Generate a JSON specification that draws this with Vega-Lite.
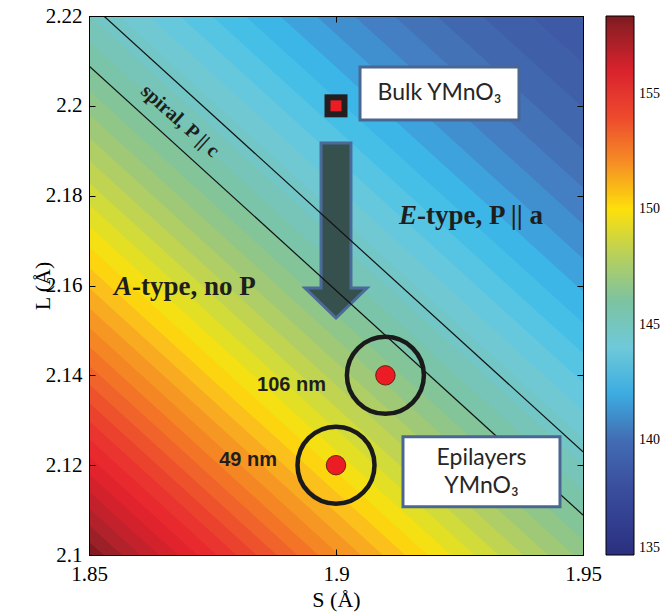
{
  "$schema": "https://vega.github.io/schema/vega-lite/v6.json",
  "width": 494,
  "height": 539,
  "autosize": "none",
  "padding": {"left": 89, "top": 16, "right": 77, "bottom": 59},
  "background": "white",
  "config": {"view": {"stroke": "black", "strokeWidth": 1}, "font": "Liberation Serif"},
  "datasets": {
    "bands": [
      {"S":1.85,"lo":1.9,"v":158.25},{"S":1.95,"lo":1.8,"v":158.25},
      {"S":1.85,"lo":2.10293,"v":157.75},{"S":1.95,"lo":2.00293,"v":157.75},
      {"S":1.85,"lo":2.10664,"v":157.25},{"S":1.95,"lo":2.00664,"v":157.25},
      {"S":1.85,"lo":2.11039,"v":156.75},{"S":1.95,"lo":2.01039,"v":156.75},
      {"S":1.85,"lo":2.11418,"v":156.25},{"S":1.95,"lo":2.01418,"v":156.25},
      {"S":1.85,"lo":2.11802,"v":155.75},{"S":1.95,"lo":2.01802,"v":155.75},
      {"S":1.85,"lo":2.12191,"v":155.25},{"S":1.95,"lo":2.02191,"v":155.25},
      {"S":1.85,"lo":2.12585,"v":154.75},{"S":1.95,"lo":2.02585,"v":154.75},
      {"S":1.85,"lo":2.12984,"v":154.25},{"S":1.95,"lo":2.02984,"v":154.25},
      {"S":1.85,"lo":2.13389,"v":153.75},{"S":1.95,"lo":2.03389,"v":153.75},
      {"S":1.85,"lo":2.138,"v":153.25},{"S":1.95,"lo":2.038,"v":153.25},
      {"S":1.85,"lo":2.14217,"v":152.75},{"S":1.95,"lo":2.04217,"v":152.75},
      {"S":1.85,"lo":2.1464,"v":152.25},{"S":1.95,"lo":2.0464,"v":152.25},
      {"S":1.85,"lo":2.15069,"v":151.75},{"S":1.95,"lo":2.05069,"v":151.75},
      {"S":1.85,"lo":2.15506,"v":151.25},{"S":1.95,"lo":2.05506,"v":151.25},
      {"S":1.85,"lo":2.15949,"v":150.75},{"S":1.95,"lo":2.05949,"v":150.75},
      {"S":1.85,"lo":2.164,"v":150.25},{"S":1.95,"lo":2.064,"v":150.25},
      {"S":1.85,"lo":2.16859,"v":149.75},{"S":1.95,"lo":2.06859,"v":149.75},
      {"S":1.85,"lo":2.17327,"v":149.25},{"S":1.95,"lo":2.07327,"v":149.25},
      {"S":1.85,"lo":2.17804,"v":148.75},{"S":1.95,"lo":2.07804,"v":148.75},
      {"S":1.85,"lo":2.1829,"v":148.25},{"S":1.95,"lo":2.0829,"v":148.25},
      {"S":1.85,"lo":2.18786,"v":147.75},{"S":1.95,"lo":2.08786,"v":147.75},
      {"S":1.85,"lo":2.19293,"v":147.25},{"S":1.95,"lo":2.09293,"v":147.25},
      {"S":1.85,"lo":2.19811,"v":146.75},{"S":1.95,"lo":2.09811,"v":146.75},
      {"S":1.85,"lo":2.20341,"v":146.25},{"S":1.95,"lo":2.10341,"v":146.25},
      {"S":1.85,"lo":2.20884,"v":145.75},{"S":1.95,"lo":2.10884,"v":145.75},
      {"S":1.85,"lo":2.21442,"v":145.25},{"S":1.95,"lo":2.11442,"v":145.25},
      {"S":1.85,"lo":2.22015,"v":144.75},{"S":1.95,"lo":2.12015,"v":144.75},
      {"S":1.85,"lo":2.22605,"v":144.25},{"S":1.95,"lo":2.12605,"v":144.25},
      {"S":1.85,"lo":2.23212,"v":143.75},{"S":1.95,"lo":2.13212,"v":143.75},
      {"S":1.85,"lo":2.2384,"v":143.25},{"S":1.95,"lo":2.1384,"v":143.25},
      {"S":1.85,"lo":2.2449,"v":142.75},{"S":1.95,"lo":2.1449,"v":142.75},
      {"S":1.85,"lo":2.25164,"v":142.25},{"S":1.95,"lo":2.15164,"v":142.25},
      {"S":1.85,"lo":2.25866,"v":141.75},{"S":1.95,"lo":2.15866,"v":141.75},
      {"S":1.85,"lo":2.266,"v":141.25},{"S":1.95,"lo":2.166,"v":141.25},
      {"S":1.85,"lo":2.27369,"v":140.75},{"S":1.95,"lo":2.17369,"v":140.75},
      {"S":1.85,"lo":2.2818,"v":140.25},{"S":1.95,"lo":2.1818,"v":140.25},
      {"S":1.85,"lo":2.29041,"v":139.75},{"S":1.95,"lo":2.19041,"v":139.75},
      {"S":1.85,"lo":2.29962,"v":139.25},{"S":1.95,"lo":2.19962,"v":139.25},
      {"S":1.85,"lo":2.30957,"v":138.75},{"S":1.95,"lo":2.20957,"v":138.75},
      {"S":1.85,"lo":2.32048,"v":138.25},{"S":1.95,"lo":2.22048,"v":138.25}
    ],
    "lines": [
      {"S":1.85,"L":2.223,"id":"upper"},{"S":1.95,"L":2.123,"id":"upper"},
      {"S":1.85,"L":2.2089,"id":"lower"},{"S":1.95,"L":2.1089,"id":"lower"}
    ],
    "arrow": [{"S":1.9,"L":2.17225}],
    "bulk": [{"S":1.9,"L":2.2}],
    "films": [{"S":1.91,"L":2.14,"t":"106 nm"},{"S":1.9,"L":2.12,"t":"49 nm"}],
    "filmLabels": [{"S":1.89798,"L":2.13785,"t":"106 nm"},{"S":1.88806,"L":2.12116,"t":"49 nm"}],
    "boxes": [
      {"x1":1.90486,"x2":1.93704,"y1":2.19685,"y2":2.20865},
      {"x1":1.91356,"x2":1.94534,"y1":2.11076,"y2":2.12634}
    ],
    "boxText": [
      {"S":1.92095,"L":2.20275,"t":"Bulk YMnO₃"},
      {"S":1.92945,"L":2.1216,"t":"Epilayers"},
      {"S":1.92945,"L":2.11537,"t":"YMnO₃"}
    ],
    "phaseItalic": [{"S":1.8587,"L":2.1597,"t":"A"},{"S":1.9164,"L":2.17548,"t":"E"}],
    "phaseRest": [{"S":1.8587,"L":2.1597,"t":"-type, no P"},{"S":1.9164,"L":2.17548,"t":"-type, P || a"}],
    "spiral": [{"S":1.86842,"L":2.19662,"t":"spiral, P || c"}]
  },
  "layer": [
    {
      "data": {"name": "bands"},
      "mark": {"type": "area", "clip": true, "opacity": 1},
      "encoding": {
        "x": {"field": "S", "type": "quantitative", "scale": {"domain": [1.85, 1.95], "nice": false, "zero": false},
          "axis": {"orient": "bottom", "values": [1.85, 1.9, 1.95], "format": "~g", "title": "S (Å)", "titleFont": "Liberation Serif", "titleFontSize": 22, "titleFontWeight": "normal", "titleColor": "black", "titlePadding": 5, "labelFont": "Liberation Serif", "labelFontSize": 21, "labelColor": "black", "labelPadding": 14, "labelFlush": false, "labelOverlap": false, "tickSize": -6, "tickColor": "black", "domainColor": "black", "grid": false, "zindex": 1}},
        "y": {"field": "lo", "type": "quantitative", "stack": null, "scale": {"domain": [2.1, 2.22], "nice": false, "zero": false},
          "axis": {"orient": "left", "values": [2.1, 2.12, 2.14, 2.16, 2.18, 2.2, 2.22], "format": "~g", "title": "L (Å)", "titleFont": "Liberation Serif", "titleFontSize": 22, "titleFontWeight": "normal", "titleColor": "black", "titlePadding": -9, "labelFont": "Liberation Serif", "labelFontSize": 21, "labelColor": "black", "labelPadding": 13, "labelFlush": false, "labelOverlap": false, "tickSize": -6, "tickColor": "black", "domainColor": "black", "grid": false, "zindex": 1}},
        "y2": {"datum": 2.6},
        "color": {"field": "v", "type": "quantitative",
          "scale": {"domain": [135, 136.5, 138, 139.5, 140.5, 141.5, 142.3, 143, 144, 145, 146, 147, 148, 149, 150, 150.7, 151.5, 152.5, 153.5, 154.5, 155.5, 156.5, 157.5, 158.4],
            "range": ["#2b2f7e","#333f92","#3b4f9f","#4062aa","#4477bb","#3f98d6","#3cb8e8","#4cc3e6","#6ec9d9","#74c5bf","#7cc3a2","#97c77f","#b7d05c","#d9df2e","#fde00a","#fbc21a","#f7a022","#f47d25","#ef5a2b","#ea3a2f","#e7232d","#cc222c","#a8222a","#7a1a1f"],
            "interpolate": "rgb", "nice": false, "zero": false},
          "legend": {"type": "gradient", "orient": "none", "legendX": 517, "legendY": 0, "direction": "vertical", "gradientLength": 539, "gradientThickness": 28, "title": null, "values": [135, 140, 145, 150, 155], "labelFont": "Liberation Serif", "labelFontSize": 14, "labelColor": "black", "labelOffset": 5, "gradientStrokeColor": "black", "gradientStrokeWidth": 1, "padding": 0}}
      }
    },
    {
      "data": {"name": "arrow"},
      "mark": {"type": "point", "shape": "M-0.171,-1L0.171,-1L0.171,0.657L0.354,0.657L0,1L-0.354,0.657L-0.171,0.657Z", "size": 30625, "filled": true, "fill": "#36504d", "stroke": "#4a6a9a", "strokeWidth": 3, "opacity": 1},
      "encoding": {
        "x": {"field": "S", "type": "quantitative", "axis": null},
        "y": {"field": "L", "type": "quantitative", "axis": null}
      }
    },
    {
      "data": {"name": "lines"},
      "mark": {"type": "line", "clip": true, "color": "#111111", "strokeWidth": 1.2},
      "encoding": {
        "x": {"field": "S", "type": "quantitative",
          "axis": {"orient": "top", "labels": false, "title": null, "values": [1.85, 1.9, 1.95], "tickSize": -6, "tickColor": "black", "domainColor": "black", "grid": false, "zindex": 1}},
        "y": {"field": "L", "type": "quantitative",
          "axis": {"orient": "right", "labels": false, "title": null, "values": [2.1, 2.12, 2.14, 2.16, 2.18, 2.2, 2.22], "tickSize": -6, "tickColor": "black", "domainColor": "black", "grid": false, "zindex": 1}},
        "detail": {"field": "id"}
      }
    },
    {
      "data": {"name": "boxes"},
      "mark": {"type": "rect", "fill": "white", "stroke": "#4a6794", "strokeWidth": 3},
      "encoding": {
        "x": {"field": "x1", "type": "quantitative", "axis": null},
        "x2": {"field": "x2"},
        "y": {"field": "y1", "type": "quantitative", "axis": null},
        "y2": {"field": "y2"}
      }
    },
    {
      "data": {"name": "boxText"},
      "mark": {"type": "text", "font": "Lato", "fontSize": 23, "color": "#262626", "align": "center", "baseline": "middle"},
      "encoding": {
        "x": {"field": "S", "type": "quantitative", "axis": null},
        "y": {"field": "L", "type": "quantitative", "axis": null},
        "text": {"field": "t"}
      }
    },
    {
      "data": {"name": "films"},
      "mark": {"type": "point", "shape": "circle", "size": 5929, "filled": false, "stroke": "#1a1a1a", "strokeWidth": 4.5, "opacity": 1},
      "encoding": {
        "x": {"field": "S", "type": "quantitative", "axis": null},
        "y": {"field": "L", "type": "quantitative", "axis": null}
      }
    },
    {
      "data": {"name": "films"},
      "mark": {"type": "point", "shape": "circle", "size": 380, "filled": true, "fill": "#ec1c24", "stroke": "#4a1010", "strokeWidth": 0.8, "opacity": 1},
      "encoding": {
        "x": {"field": "S", "type": "quantitative", "axis": null},
        "y": {"field": "L", "type": "quantitative", "axis": null}
      }
    },
    {
      "data": {"name": "bulk"},
      "mark": {"type": "point", "shape": "square", "size": 529, "filled": true, "fill": "#231f20", "opacity": 1},
      "encoding": {
        "x": {"field": "S", "type": "quantitative", "axis": null},
        "y": {"field": "L", "type": "quantitative", "axis": null}
      }
    },
    {
      "data": {"name": "bulk"},
      "mark": {"type": "point", "shape": "square", "size": 121, "filled": true, "fill": "#ec1c24", "opacity": 1},
      "encoding": {
        "x": {"field": "S", "type": "quantitative", "axis": null},
        "y": {"field": "L", "type": "quantitative", "axis": null}
      }
    },
    {
      "data": {"name": "filmLabels"},
      "mark": {"type": "text", "font": "Liberation Sans", "fontWeight": "bold", "fontSize": 20, "color": "#1e1e1e", "align": "right", "baseline": "middle"},
      "encoding": {
        "x": {"field": "S", "type": "quantitative", "axis": null},
        "y": {"field": "L", "type": "quantitative", "axis": null},
        "text": {"field": "t"}
      }
    },
    {
      "data": {"name": "phaseItalic"},
      "mark": {"type": "text", "font": "Liberation Serif", "fontWeight": "bold", "fontStyle": "italic", "fontSize": 27, "color": "#1e1e1e", "align": "right", "baseline": "middle"},
      "encoding": {
        "x": {"field": "S", "type": "quantitative", "axis": null},
        "y": {"field": "L", "type": "quantitative", "axis": null},
        "text": {"field": "t"}
      }
    },
    {
      "data": {"name": "phaseRest"},
      "mark": {"type": "text", "font": "Liberation Serif", "fontWeight": "bold", "fontSize": 27, "color": "#1e1e1e", "align": "left", "baseline": "middle"},
      "encoding": {
        "x": {"field": "S", "type": "quantitative", "axis": null},
        "y": {"field": "L", "type": "quantitative", "axis": null},
        "text": {"field": "t"}
      }
    },
    {
      "data": {"name": "spiral"},
      "mark": {"type": "text", "font": "Liberation Serif", "fontWeight": "bold", "fontSize": 20, "color": "#1e1e1e", "align": "center", "baseline": "middle", "angle": 42},
      "encoding": {
        "x": {"field": "S", "type": "quantitative", "axis": null},
        "y": {"field": "L", "type": "quantitative", "axis": null},
        "text": {"field": "t"}
      }
    }
  ]
}
